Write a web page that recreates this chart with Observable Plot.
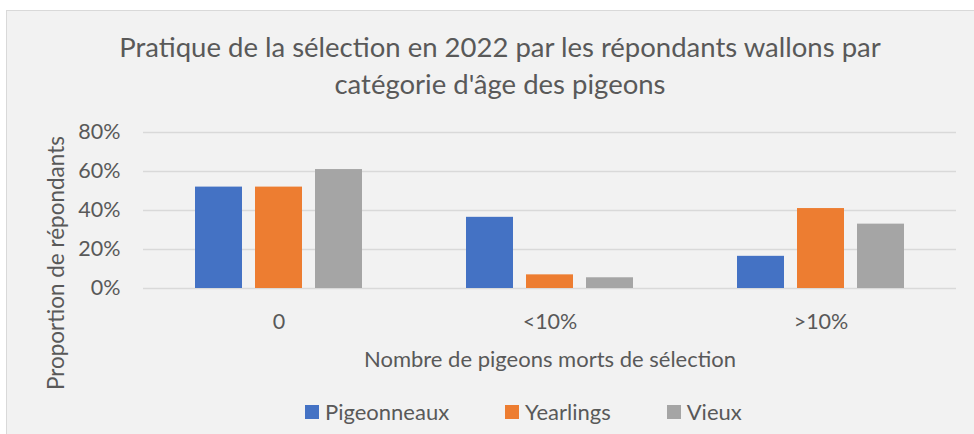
<!DOCTYPE html>
<html>
<head>
<meta charset="utf-8">
<script src="https://cdn.jsdelivr.net/npm/d3@7"></script>
<script src="https://cdn.jsdelivr.net/npm/@observablehq/plot@0.6"></script>
<style>
  html, body { margin: 0; padding: 0; background: #ffffff; overflow: hidden; width: 974px; height: 434px; }
  body { font-family: Lato, "Open Sans", sans-serif; color: #595959; }
  #frame { position: absolute; left: 6px; top: 10px; width: 980px; height: 440px; background: #f2f2f2;
           border-left: 1.5px solid #d9d9d9; border-top: 1.5px solid #d9d9d9; }
  #title { position: absolute; left: 0; top: 28px; width: 1000px; text-align: center; font-size: 27.5px; line-height: 37px; }
  #chart { position: absolute; left: 0; top: 110px; }
  #ylabel { position: absolute; left: -94px; top: 250px; width: 300px; height: 26px; line-height: 26px; font-size: 22.5px;
            text-align: center; transform: rotate(-90deg); white-space: nowrap; }
  #xlabel { position: absolute; left: 250px; top: 346px; width: 600px; line-height: 26px; font-size: 22px; text-align: center; }
  #legend { position: absolute; left: 305px; top: 399px; display: flex; gap: 56px; font-size: 22px; line-height: 26px; }
  .item { display: flex; align-items: center; }
  .sw { width: 14px; height: 14px; margin-right: 6px; display: inline-block; }
</style>
</head>
<body>
<div id="frame"></div>
<div id="title">Pratique de la sélection en 2022 par les répondants wallons par<br>catégorie d'âge des pigeons</div>
<div id="chart"></div>
<div id="ylabel">Proportion de répondants</div>
<div id="xlabel">Nombre de pigeons morts de sélection</div>
<div id="legend"></div>
<script>
const categories = ["0", "<10%", ">10%"];
const series = ["Pigeonneaux", "Yearlings", "Vieux"];
const colors = ["#4472c4", "#ed7d31", "#a5a5a5"];
const pigeonneaux = [0.52, 0.365, 0.165];
const yearlings = [0.52, 0.07, 0.41];
const vieux = [0.61, 0.055, 0.33];
const yTicks = [0, 0.2, 0.4, 0.6, 0.8];

const valuesBySeries = [pigeonneaux, yearlings, vieux];
const data = [];
categories.forEach((c, i) => {
  series.forEach((s, j) => data.push({category: c, series: s, value: valuesBySeries[j][i]}));
});

const chart = Plot.plot({
  width: 974,
  height: 290,
  marginLeft: 142,
  marginRight: 17,
  marginTop: 22,
  marginBottom: 112,
  style: {background: "transparent", fontFamily: "Lato, 'Open Sans', sans-serif", fontSize: "21.5px", color: "#595959", overflow: "visible"},
  fx: {domain: categories, padding: 0, axis: "bottom", tickSize: 0, tickPadding: 25, label: null},
  x: {domain: series, axis: null, paddingInner: 0.215, paddingOuter: 0.853},
  y: {domain: [0, 0.8], ticks: yTicks, tickFormat: d3.format(".0%"), tickSize: 0, tickPadding: 23, label: null},
  color: {domain: series, range: colors},
  marks: [
    Plot.ruleY(yTicks, {stroke: "#d9d9d9", strokeWidth: 1.5}),
    Plot.barY(data, {fx: "category", x: "series", y: "value", fill: "series"})
  ]
});
document.getElementById("chart").appendChild(chart);

const legend = document.getElementById("legend");
series.forEach((s, i) => {
  const item = document.createElement("div");
  item.className = "item";
  const sw = document.createElement("span");
  sw.className = "sw";
  sw.style.background = colors[i];
  item.appendChild(sw);
  item.appendChild(document.createTextNode(s));
  legend.appendChild(item);
});
</script>
</body>
</html>
